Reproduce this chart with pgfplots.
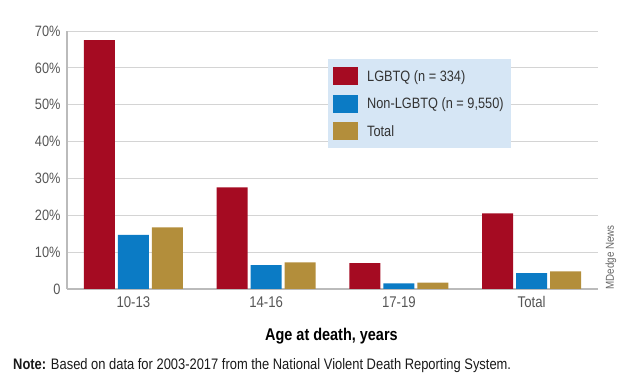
\documentclass[border=0pt]{standalone}
\usepackage{fontspec}
\setmainfont{Liberation Sans}[FakeStretch=0.85]
\usepackage{pgfplots}
\pgfplotsset{compat=1.18}
\definecolor{cred}{HTML}{A50B22}
\definecolor{cblue}{HTML}{0B7BC5}
\definecolor{cgold}{HTML}{B38E3B}
\definecolor{legbg}{HTML}{D6E6F5}
\definecolor{gridc}{HTML}{D4D4D4}
\definecolor{axc}{HTML}{BBBBBB}
\definecolor{tickc}{HTML}{555555}
\begin{document}
\begin{tikzpicture}[x=1pt,y=1pt]
\useasboundingbox (0,0) rectangle (625,375);
\begin{axis}[
  at={(67pt,86pt)}, anchor=south west,
  scale only axis, width=531pt, height=258pt,
  ybar=3pt, bar width=31pt,
  xmin=-0.5, xmax=3.5, ymin=0, ymax=70,
  xtick={0,1,2,3}, xticklabels={10-13,14-16,17-19,Total},
  ytick={0,10,20,30,40,50,60,70},
  yticklabels={0,10\%,20\%,30\%,40\%,50\%,60\%,70\%},
  major tick length=0pt,
  axis x line*=bottom, axis y line*=left,
  axis line style={axc, line width=1.2pt, -},
  ymajorgrids, grid style={gridc, line width=1pt},
  yticklabel style={font=\fontsize{15}{17}\selectfont, text=tickc, xshift=-3pt},
  xticklabel style={font=\fontsize{15.5}{17}\selectfont, text=tickc, yshift=-4pt},
  xlabel={Age at death, years},
  xlabel style={at={(axis description cs:0.498,-0.182)}, anchor=center, font=\bfseries\fontsize{17}{19}\selectfont},
  legend style={at={(axis description cs:0.4915,0.891)}, anchor=north west,
     fill=legbg, draw=none, font=\fontsize{15}{17}\selectfont, text=black!80,
     inner xsep=5pt, inner ysep=8pt, row sep=9.5pt},
  legend cell align=left,
  legend image code/.code={\fill[#1,draw=none] (0pt,-9pt) rectangle (25pt,9pt); \path (32pt,0pt);},
  clip=false,
]
\addplot[fill=cred, draw=none] coordinates {(0,67.5) (1,27.6) (2,7.0) (3,20.5)};
\addplot[fill=cblue, draw=none] coordinates {(0,14.7) (1,6.5) (2,1.5) (3,4.3)};
\addplot[fill=cgold, draw=none] coordinates {(0,16.7) (1,7.2) (2,1.7) (3,4.8)};
\legend{LGBTQ (n = 334), Non-LGBTQ (n = 9{,}550), Total}
\end{axis}
\node[rotate=90, anchor=west, font=\fontsize{11.5}{13}\selectfont, text=black!60] at (611,82) {MDedge News};
\node[anchor=west, font=\fontsize{15.2}{17}\selectfont, text=black!90, inner sep=0pt] at (13,9) {\textbf{Note:} Based on data for 2003-2017 from the National Violent Death Reporting System.};
\end{tikzpicture}
\end{document}
